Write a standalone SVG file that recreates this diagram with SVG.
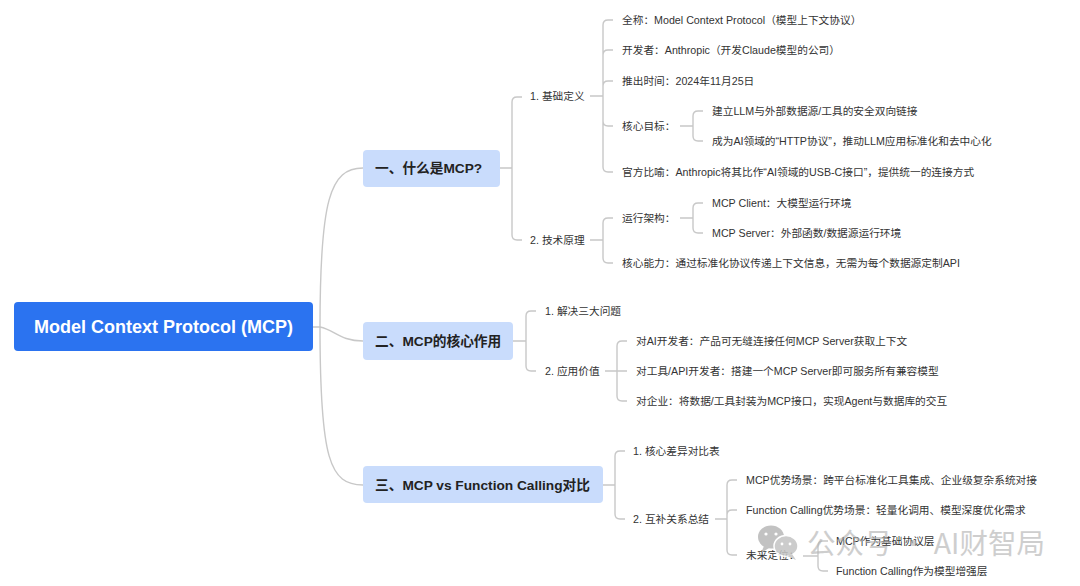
<svg xmlns="http://www.w3.org/2000/svg" width="1080" height="586" viewBox="0 0 1080 586">
<style>
.ln{fill:none;stroke:#c8c8c8;stroke-width:1.4}
.t{font-family:"Liberation Sans","Noto Sans CJK SC",sans-serif;font-size:10.7px;fill:#333}
.b1{fill:#c9dcfc}
.h{font-family:"Liberation Sans","Noto Sans CJK SC",sans-serif;font-size:13.7px;font-weight:bold;fill:#222}
.wm{font-family:"Noto Sans CJK SC","Liberation Sans",sans-serif;font-size:28.5px;fill:#b4b4b4;opacity:0.75}
</style>
<rect width="1080" height="586" fill="#ffffff"/>
<g id="connectors">
<path class="ln" d="M313,327 H320 C320,200 330,168 363,168"/>
<path class="ln" d="M320,327 C335,330 340,341 363,341"/>
<path class="ln" d="M320,327 C320,460 330,485 363,485"/>
<path class="ln" d="M500,168 H512 M512,168 V102 Q512,97 517,97 H522 M512,168 V235 Q512,240 517,240 H522"/>
<path class="ln" d="M590,96 H603 M603,96 V25 Q603,20 608,20 H613 M603,96 V55 Q603,50 608,50 H613 M603,96 V86 Q603,81 608,81 H613 M603,96 V121 Q603,126 608,126 H613 M603,96 V167 Q603,172 608,172 H613"/>
<path class="ln" d="M680,126 H693 M693,126 V116 Q693,111 698,111 H703 M693,126 V136 Q693,141 698,141 H703"/>
<path class="ln" d="M590,240 H603 M603,240 V223 Q603,218 608,218 H613 M603,240 V258 Q603,263 608,263 H613"/>
<path class="ln" d="M680,218 H693 M693,218 V208 Q693,203 698,203 H703 M693,218 V228 Q693,233 698,233 H703"/>
<path class="ln" d="M513,341 H526 M526,341 V316 Q526,311 531,311 H536 M526,341 V366 Q526,371 531,371 H536"/>
<path class="ln" d="M605,371 H617 M617,371 V346 Q617,341 622,341 H627 M617,371 H627 M617,371 V396 Q617,401 622,401 H627"/>
<path class="ln" d="M603,485 H615 M615,485 V456 Q615,451 620,451 H625 M615,485 V514 Q615,519 620,519 H625"/>
<path class="ln" d="M715,519 H727 M727,519 V485 Q727,480 732,480 H737 M727,519 V515 Q727,510 732,510 H737 M727,519 V550 Q727,555 732,555 H737"/>
<path class="ln" d="M803,556 H818 M818,556 V546 Q818,541 823,541 H828 M818,556 V566 Q818,571 823,571 H828"/>
</g>
<g id="root">
<rect x="14" y="302" width="299" height="49" rx="4" fill="#2b73f0"/>
<text x="163.5" y="333" text-anchor="middle" font-family="Liberation Sans, Arial, sans-serif" font-size="18" font-weight="bold" fill="#ffffff">Model Context Protocol (MCP)</text>
</g>
<g id="n1">
<rect class="b1" x="363" y="150" width="137" height="37" rx="4"/>
<text class="h" x="375" y="173">一、什么是MCP?</text>
</g>
<g id="n2">
<rect class="b1" x="363" y="322" width="150" height="38" rx="4"/>
<text class="h" x="375" y="346">二、MCP的核心作用</text>
</g>
<g id="n3">
<rect class="b1" x="363" y="466" width="240" height="37" rx="4"/>
<text class="h" x="375" y="490">三、MCP vs Function Calling对比</text>
</g>
<g id="n1-1"><text class="t" x="530" y="100">1. 基础定义</text></g>
<g id="n1-1-1"><text class="t" x="622" y="24">全称：Model Context Protocol（模型上下文协议）</text></g>
<g id="n1-1-2"><text class="t" x="622" y="54">开发者：Anthropic（开发Claude模型的公司）</text></g>
<g id="n1-1-3"><text class="t" x="622" y="85">推出时间：2024年11月25日</text></g>
<g id="n1-1-4"><text class="t" x="622" y="130">核心目标：</text></g>
<g id="n1-1-4-1"><text class="t" x="712" y="115">建立LLM与外部数据源/工具的安全双向链接</text></g>
<g id="n1-1-4-2"><text class="t" x="712" y="145">成为AI领域的“HTTP协议”，推动LLM应用标准化和去中心化</text></g>
<g id="n1-1-5"><text class="t" x="622" y="176">官方比喻：Anthropic将其比作“AI领域的USB-C接口”，提供统一的连接方式</text></g>
<g id="n1-2"><text class="t" x="530" y="244">2. 技术原理</text></g>
<g id="n1-2-1"><text class="t" x="622" y="222">运行架构：</text></g>
<g id="n1-2-1-1"><text class="t" x="712" y="207">MCP Client：大模型运行环境</text></g>
<g id="n1-2-1-2"><text class="t" x="712" y="237">MCP Server：外部函数/数据源运行环境</text></g>
<g id="n1-2-2"><text class="t" x="622" y="267">核心能力：通过标准化协议传递上下文信息，无需为每个数据源定制API</text></g>
<g id="n2-1"><text class="t" x="545" y="315">1. 解决三大问题</text></g>
<g id="n2-2"><text class="t" x="545" y="375">2. 应用价值</text></g>
<g id="n2-2-1"><text class="t" x="636" y="345">对AI开发者：产品可无缝连接任何MCP Server获取上下文</text></g>
<g id="n2-2-2"><text class="t" x="636" y="375">对工具/API开发者：搭建一个MCP Server即可服务所有兼容模型</text></g>
<g id="n2-2-3"><text class="t" x="636" y="405">对企业：将数据/工具封装为MCP接口，实现Agent与数据库的交互</text></g>
<g id="n3-1"><text class="t" x="633" y="455">1. 核心差异对比表</text></g>
<g id="n3-2"><text class="t" x="633" y="523">2. 互补关系总结</text></g>
<g id="n3-2-1"><text class="t" x="746" y="484">MCP优势场景：跨平台标准化工具集成、企业级复杂系统对接</text></g>
<g id="n3-2-2"><text class="t" x="746" y="514">Function Calling优势场景：轻量化调用、模型深度优化需求</text></g>
<g id="n3-2-3"><text class="t" x="746" y="559">未来定位：</text></g>
<g id="n3-2-3-1"><text class="t" x="836" y="545">MCP作为基础协议层</text></g>
<g id="n3-2-3-2"><text class="t" x="836" y="575">Function Calling作为模型增强层</text></g>
<g id="watermark" opacity="0.85">
<ellipse cx="771" cy="537" rx="13" ry="11.5" fill="#b8b8b8"/>
<path d="M764,546 L761,553 L769,548 Z" fill="#b8b8b8"/>
<ellipse cx="786" cy="546" rx="12" ry="10.5" fill="#c4c4c4" stroke="#ffffff" stroke-width="1.5"/>
<path d="M792,554 L796,560 L787,556 Z" fill="#c4c4c4"/>
<circle cx="766" cy="534" r="1.6" fill="#fff"/><circle cx="776" cy="534" r="1.6" fill="#fff"/>
<circle cx="782" cy="544" r="1.4" fill="#fff"/><circle cx="790" cy="544" r="1.4" fill="#fff"/>
<text class="wm" x="807" y="554">公众号 · AI财智局</text>
</g>
</svg>
